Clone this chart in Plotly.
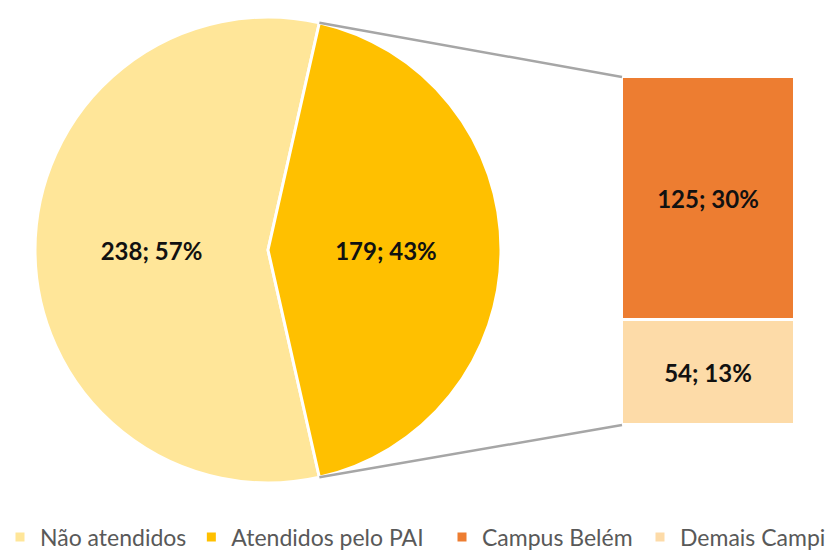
import math
import plotly.graph_objects as go

pie_labels = ["Não atendidos", "Atendidos pelo PAI"]
pie_values = [238, 179]
pie_colors = ["#FFE699", "#FFC000"]

bar_labels = ["Campus Belém", "Demais Campi"]
bar_values = [125, 54]
bar_colors = ["#ED7D31", "#FDDBA8"]

total = sum(pie_values)
W, H = 831, 550

# pie geometry (pixels)
pie_x0, pie_x1 = 35, 501
pie_top, pie_bot = 17, 483
cx = (pie_x0 + pie_x1) / 2
cy = (pie_top + pie_bot) / 2
R = (pie_x1 - pie_x0) / 2

# Atendidos slice centered on 3 o'clock
frac_att = pie_values[1] / total
half = frac_att * 360 / 2
start_att = 90 - half  # degrees clockwise from 12 o'clock
rotation = start_att + frac_att * 360  # start of 'Não atendidos'

LABEL_FONT = dict(family="Lato", size=24, color="#111111")
LEGEND_FONT = dict(family="Lato", size=23, color="#595959")

fig = go.Figure()
fig.add_trace(go.Pie(
    labels=pie_labels, values=pie_values, sort=False, direction="clockwise",
    rotation=rotation,
    marker=dict(colors=pie_colors, line=dict(color="white", width=3)),
    texttemplate="<b>%{value}; %{percent:.0%}</b>",
    textposition="inside", insidetextorientation="horizontal",
    textfont=LABEL_FONT,
    domain=dict(x=[pie_x0 / W, pie_x1 / W], y=[1 - pie_bot / H, 1 - pie_top / H]),
    hoverinfo="label+value+percent", legend="legend",
))

for lab, val, col, leg in [(bar_labels[1], bar_values[1], bar_colors[1], "legend3"),
                           (bar_labels[0], bar_values[0], bar_colors[0], "legend2")]:
    fig.add_trace(go.Bar(
        x=[0], y=[val], name=lab, width=1,
        marker=dict(color=col, line=dict(color="white", width=3)),
        text=[f"<b>{val}; {round(100 * val / total)}%</b>"],
        textposition="inside", insidetextanchor="middle",
        textfont=LABEL_FONT, constraintext="none",
        legend=leg,
    ))

bar_x0, bar_x1 = 622, 795
bar_top, bar_bot = 77, 425
bar_total = sum(bar_values)

# connector lines from slice edges to bar corners
for ang, yv in [(start_att, bar_total), (start_att + frac_att * 360, 0)]:
    px = cx + R * math.sin(math.radians(ang))
    py = cy - R * math.cos(math.radians(ang))
    fig.add_shape(type="line", xref="paper", yref="paper",
                  x0=px / W, y0=1 - py / H,
                  x1=bar_x0 / W, y1=1 - (bar_bot - (bar_bot - bar_top) * yv / bar_total) / H,
                  line=dict(color="#A6A6A6", width=2.5))

leg_y = 1 - 537 / H
common_leg = dict(orientation="h", xanchor="left", y=leg_y, yanchor="middle",
                  font=LEGEND_FONT, itemwidth=30, bgcolor="rgba(0,0,0,0)")

fig.update_layout(
    width=W, height=H, margin=dict(l=0, r=0, t=0, b=0, autoexpand=False),
    paper_bgcolor="white", plot_bgcolor="white",
    barmode="stack", bargap=0,
    xaxis=dict(domain=[bar_x0 / W, bar_x1 / W], range=[-0.5, 0.5], visible=False, fixedrange=True),
    yaxis=dict(domain=[1 - bar_bot / H, 1 - bar_top / H], range=[0, bar_total], visible=False, fixedrange=True),
    showlegend=True,
    legend=dict(x=0.0, **common_leg),
    legend2=dict(x=442 / W, **common_leg),
    legend3=dict(x=640 / W, **common_leg),
)

fig.write_html("out.html", config={"displayModeBar": False},
               post_script="document.body.style.margin='0';")
